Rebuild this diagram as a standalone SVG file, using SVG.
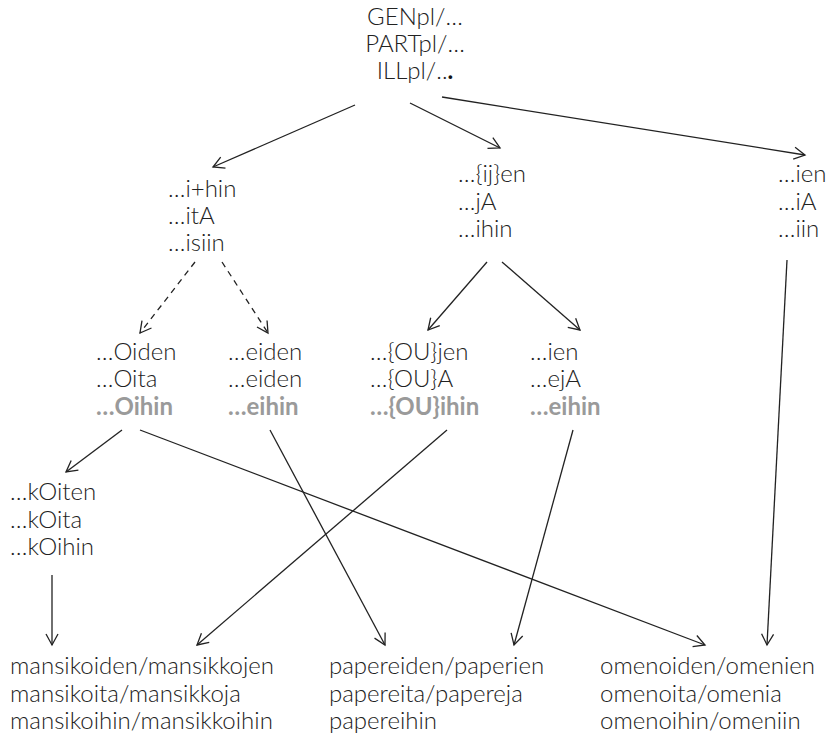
<svg xmlns="http://www.w3.org/2000/svg" width="830" height="740" viewBox="0 0 830 740">
<defs>
<style>
text{font-family:Lato,"Open Sans","Liberation Sans",sans-serif;font-size:24px;font-weight:300;fill:#222}
.g{font-weight:700;fill:#9a9a9a}
.c{text-anchor:middle}
.e{fill:none;stroke:#222;stroke-width:1.3;marker-end:url(#ah)}
.d{stroke-dasharray:6 5}
</style>
<marker id="ah" viewBox="-12 -7 14 14" markerWidth="14" markerHeight="14" refX="0" refY="0" orient="auto" markerUnits="userSpaceOnUse">
<path d="M-11,-6 L0,0 L-11,6" fill="none" stroke="#222" stroke-width="1.3"/>
</marker>
</defs>
<rect width="830" height="740" fill="#fff"/>
<g id="connectors">
<line class="e" x1="355" y1="105" x2="213" y2="167"/>
<line class="e" x1="410" y1="103" x2="500" y2="148"/>
<line class="e" x1="442" y1="97" x2="805" y2="155"/>
<line class="e d" x1="195" y1="262" x2="140" y2="333"/>
<line class="e d" x1="222" y1="262" x2="268" y2="333"/>
<line class="e" x1="487" y1="262" x2="428" y2="330"/>
<line class="e" x1="502" y1="262" x2="580" y2="330"/>
<line class="e" x1="122" y1="430" x2="66" y2="472"/>
<line class="e" x1="140" y1="430" x2="705" y2="645"/>
<line class="e" x1="270" y1="430" x2="385" y2="645"/>
<line class="e" x1="447" y1="430" x2="197" y2="645"/>
<line class="e" x1="573" y1="430" x2="514" y2="645"/>
<line class="e" x1="787" y1="260" x2="767" y2="645"/>
<line class="e" x1="52" y1="575" x2="52" y2="645"/>
</g>
<g id="root">
<text class="c" x="415" y="25">GENpl/…</text>
<text class="c" x="415" y="52">PARTpl/…</text>
<text class="c" x="415" y="79">ILLpl/..<tspan font-weight="700" fill="#111">.</tspan></text>
</g>
<g id="n-ihin">
<text x="168" y="197">…i+hin</text>
<text x="168" y="224">…itA</text>
<text x="168" y="251">…isiin</text>
</g>
<g id="n-ijen">
<text x="458" y="182">…{ij}en</text>
<text x="458" y="210">…jA</text>
<text x="458" y="237">…ihin</text>
</g>
<g id="n-ien">
<text x="778" y="182">…ien</text>
<text x="778" y="210">…iA</text>
<text x="778" y="237">…iin</text>
</g>
<g id="n-Oiden">
<text x="96" y="360">…Oiden</text>
<text x="96" y="387">…Oita</text>
<text class="g" x="96" y="415">…Oihin</text>
</g>
<g id="n-eiden">
<text x="228" y="360">…eiden</text>
<text x="228" y="387">…eiden</text>
<text class="g" x="228" y="415">…eihin</text>
</g>
<g id="n-OUjen">
<text x="370" y="360">…{OU}jen</text>
<text x="370" y="387">…{OU}A</text>
<text class="g" x="370" y="415">…{OU}ihin</text>
</g>
<g id="n-ien2">
<text x="530" y="360">…ien</text>
<text x="530" y="387">…ejA</text>
<text class="g" x="530" y="415">…eihin</text>
</g>
<g id="n-kOiten">
<text x="10" y="500">…kOiten</text>
<text x="10" y="528">…kOita</text>
<text x="10" y="555">…kOihin</text>
</g>
<g id="w-mansikka">
<text x="10" y="674">mansikoiden/mansikkojen</text>
<text x="10" y="702">mansikoita/mansikkoja</text>
<text x="10" y="729">mansikoihin/mansikkoihin</text>
</g>
<g id="w-paperi">
<text x="329" y="674">papereiden/paperien</text>
<text x="329" y="702">papereita/papereja</text>
<text x="329" y="729">papereihin</text>
</g>
<g id="w-omena">
<text x="600" y="674">omenoiden/omenien</text>
<text x="600" y="702">omenoita/omenia</text>
<text x="600" y="729">omenoihin/omeniin</text>
</g>
</svg>
